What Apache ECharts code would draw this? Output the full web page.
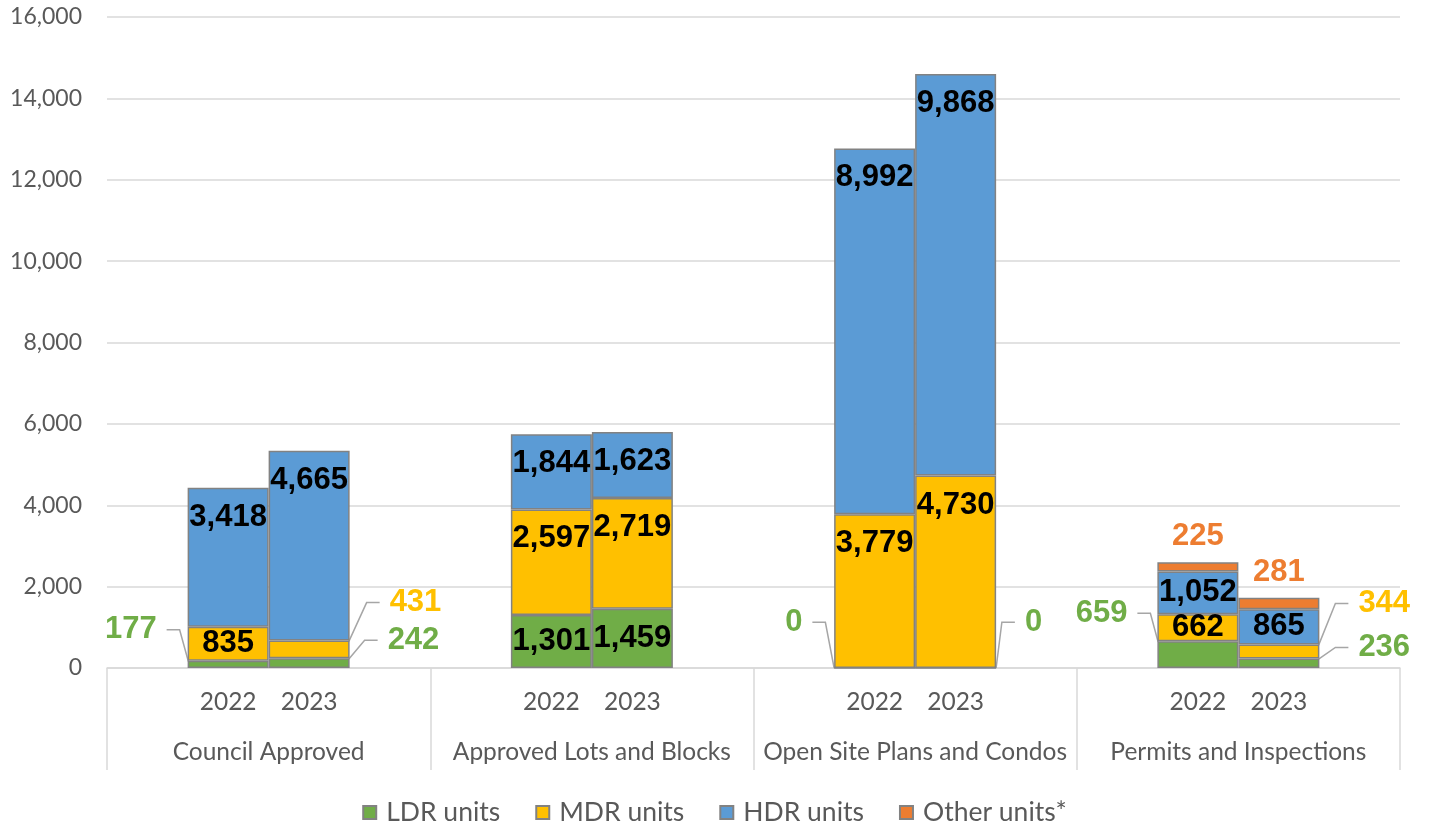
<!DOCTYPE html>
<html>
<head>
<meta charset="utf-8">
<script src="https://cdn.jsdelivr.net/npm/echarts@6/dist/echarts.min.js"></script>
<style>
  html, body { margin: 0; padding: 0; background: #ffffff; }
  #chart { width: 1429px; height: 822px; }
</style>
</head>
<body>
<div id="chart"></div>
<script>
// Housing units by stage of the development pipeline, 2022 vs 2023
const categories = ['Council Approved', 'Approved Lots and Blocks', 'Open Site Plans and Condos', 'Permits and Inspections'];
const years = ['2022', '2023'];
const unitTypes = ['LDR units', 'MDR units', 'HDR units', 'Other units*'];

const ldr2022 = [177, 1301, 0, 659];
const mdr2022 = [835, 2597, 3779, 662];
const hdr2022 = [3418, 1844, 8992, 1052];
const other2022 = ['-', '-', '-', 225];

const ldr2023 = [242, 1459, 0, 236];
const mdr2023 = [431, 2719, 4730, 344];
const hdr2023 = [4665, 1623, 9868, 865];
const other2023 = ['-', '-', '-', 281];

const yMin = 0, yMax = 16000, yStep = 2000;

// Colours and fonts
const COLORS = ['#70AD47', '#FFC000', '#5B9BD5', '#ED7D31'];
const AXIS_FONT = 'Lato, "Noto Sans", sans-serif';
const VALUE_FONT = '"Liberation Sans", Arial, sans-serif';
const fmt = v => Number(v).toLocaleString('en-US');

// Label placement for each bar segment:
//  'top'   inside, near the top of the segment
//  'mid'   inside, centred
//  'above' just above the segment
//  ['L' | 'R', rise, gap]  callout to the left / right with a leader line
const place = {
  ldr2022: [['L', 31, 21], 'mid', ['L', 45, 21], ['L', 28, 20]],
  mdr2022: ['mid', 'top', 'top', 'mid'],
  hdr2022: ['top', 'top', 'top', 'mid'],
  oth2022: [null, null, null, 'above'],
  ldr2023: [['R', 18, 28], 'mid', ['R', 45, 18], ['R', 11, 29]],
  mdr2023: [['R', 38, 30], 'top', 'top', ['R', 41, 29]],
  hdr2023: ['top', 'top', 'top', 'mid'],
  oth2023: [null, null, null, 'above']
};

function makeSeries(name, year, values, color, places) {
  return {
    name: name,
    type: 'bar',
    stack: year,
    barWidth: 81,
    barGap: '0%',
    itemStyle: { color: color, borderColor: '#828282', borderWidth: 1.5 },
    label: {
      show: true,
      fontFamily: VALUE_FONT,
      fontWeight: 'bold',
      fontSize: 31,
      formatter: p => fmt(p.value)
    },
    labelLine: { show: false, lineStyle: { color: '#a6a6a6', width: 1.5 } },
    emphasis: { disabled: true },
    data: values.map((v, i) => {
      const p = places[i];
      const item = { value: v };
      if (v === '-' || p == null) return item;
      if (p === 'top') item.label = { position: 'insideTop', distance: 14, color: '#000000' };
      else if (p === 'mid') item.label = { position: 'inside', color: '#000000' };
      else if (p === 'above') item.label = { position: 'top', distance: 10, color: color };
      else {
        // a wide, invisible box on the far side keeps the leader line leaving from the near side
        item.label = {
          color: color,
          backgroundColor: 'rgba(255,255,255,0)',
          padding: p[0] === 'L' ? [0, 10, 0, 50] : [0, 50, 0, 10]
        };
        item.labelLine = { show: true, length2: 13 };
      }
      return item;
    }),
    labelLayout: params => {
      const c = places[params.dataIndex];
      if (!Array.isArray(c)) return {};
      const side = c[0], rise = c[1], gap = c[2];
      const r = params.rect;
      return side === 'L'
        ? { x: r.x - gap, y: r.y - rise, align: 'right', verticalAlign: 'middle' }
        : { x: r.x + r.width + gap, y: r.y - rise, align: 'left', verticalAlign: 'middle' };
    }
  };
}

const series = [
  makeSeries(unitTypes[0], years[0], ldr2022, COLORS[0], place.ldr2022),
  makeSeries(unitTypes[0], years[1], ldr2023, COLORS[0], place.ldr2023),
  makeSeries(unitTypes[1], years[0], mdr2022, COLORS[1], place.mdr2022),
  makeSeries(unitTypes[1], years[1], mdr2023, COLORS[1], place.mdr2023),
  makeSeries(unitTypes[2], years[0], hdr2022, COLORS[2], place.hdr2022),
  makeSeries(unitTypes[2], years[1], hdr2023, COLORS[2], place.hdr2023),
  makeSeries(unitTypes[3], years[0], other2022, COLORS[3], place.oth2022),
  makeSeries(unitTypes[3], years[1], other2023, COLORS[3], place.oth2023)
];

const chart = echarts.init(document.getElementById('chart'), null, { renderer: 'canvas' });
chart.setOption({
  backgroundColor: '#ffffff',
  animation: false,
  grid: { left: 107, right: 29, top: 17, bottom: 154, containLabel: false },
  legend: {
    data: unitTypes,
    top: 794,
    left: 'center',
    icon: 'rect',
    itemWidth: 13,
    itemHeight: 13,
    itemGap: 35,
    textStyle: { fontFamily: AXIS_FONT, fontSize: 26.5, color: '#595959', padding: [0, 0, 0, 5] }
  },
  xAxis: {
    type: 'category',
    data: categories,
    axisLine: { show: true, lineStyle: { color: '#d9d9d9', width: 1.5 } },
    axisTick: { show: true, length: 102, lineStyle: { color: '#d9d9d9', width: 1.5 } },
    axisLabel: {
      interval: 0,
      margin: 14,
      formatter: v => '{y|' + years[0] + '}{y|' + years[1] + '}\n{c|' + v + '}',
      rich: {
        y: { width: 81, align: 'center', lineHeight: 40, fontFamily: AXIS_FONT, fontSize: 24.5, color: '#595959' },
        c: { lineHeight: 60, fontFamily: AXIS_FONT, fontSize: 24.5, color: '#595959' }
      }
    }
  },
  yAxis: {
    type: 'value',
    min: yMin,
    max: yMax,
    interval: yStep,
    axisLine: { show: false },
    axisTick: { show: false },
    splitLine: { lineStyle: { color: '#d9d9d9', width: 1.5 } },
    axisLabel: {
      margin: 25,
      fontFamily: AXIS_FONT,
      fontSize: 23,
      color: '#595959',
      formatter: v => fmt(v)
    }
  },
  series: series
});
</script>
</body>
</html>
